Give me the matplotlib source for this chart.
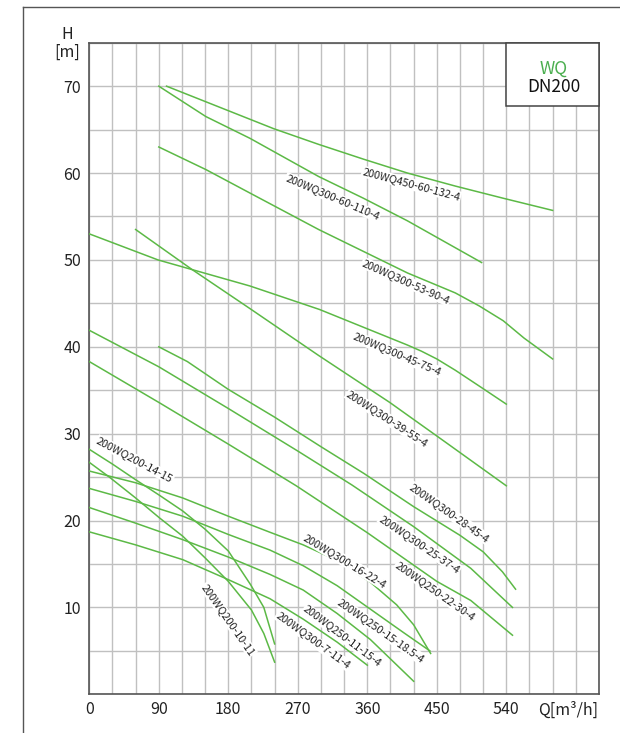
import matplotlib
matplotlib.use("Agg")
import matplotlib.pyplot as plt
from matplotlib.patches import Rectangle
from matplotlib.lines import Line2D

plt.rcParams['font.family'] = ['Noto Sans CJK SC', 'DejaVu Sans']

# ---------------- data ----------------
curve_names = [
    "200WQ450-60-132-4", "200WQ300-60-110-4", "200WQ300-53-90-4",
    "200WQ300-45-75-4", "200WQ300-39-55-4", "200WQ300-28-45-4",
    "200WQ300-25-37-4", "200WQ250-22-30-4", "200WQ200-14-15",
    "200WQ200-10-11", "200WQ300-16-22-4", "200WQ250-15-18.5-4",
    "200WQ250-11-15-4", "200WQ300-7-11-4",
]

q_450_60_132 = [100, 239, 297, 355, 412, 474, 536, 600]
h_450_60_132 = [70.0, 65.1, 63.3, 61.6, 60.0, 58.5, 57.1, 55.7]

q_300_60_110 = [90, 151, 208, 297, 355, 412, 448, 508]
h_300_60_110 = [70.0, 66.5, 64.0, 59.6, 57.1, 54.5, 52.7, 49.7]

q_300_53_90 = [90, 151, 208, 297, 412, 474, 505, 536, 563, 600]
h_300_53_90 = [63.0, 60.4, 57.7, 53.5, 48.5, 46.2, 44.7, 43.0, 41.0, 38.6]

q_300_45_75 = [0, 89, 208, 298, 412, 430, 450, 474, 508, 540]
h_300_45_75 = [53.0, 50.0, 47.0, 44.3, 40.2, 39.5, 38.6, 37.3, 35.3, 33.4]

q_300_39_55 = [60, 133, 208, 297, 389, 460, 540]
h_300_39_55 = [53.5, 48.9, 44.4, 39.0, 33.6, 29.1, 24.0]

q_300_28_45 = [90, 127, 180, 240, 300, 356, 388, 420, 480, 510, 535, 552]
h_300_28_45 = [40.0, 38.3, 35.1, 31.9, 28.5, 25.4, 23.5, 21.6, 18.3, 16.4, 14.1, 12.1]

q_300_25_37 = [0, 90, 180, 270, 340, 420, 494, 548]
h_300_25_37 = [41.9, 37.7, 32.9, 28.0, 24.1, 19.3, 14.5, 10.0]

q_250_22_30 = [0, 90, 180, 268, 360, 450, 494, 548]
h_250_22_30 = [38.3, 33.6, 28.8, 24.0, 18.6, 13.0, 10.8, 6.8]

q_200_14_15 = [0, 30, 60, 91, 121, 150, 180, 209, 226, 240]
h_200_14_15 = [28.2, 26.5, 24.7, 22.9, 21.1, 19.0, 16.5, 12.6, 10.0, 5.8]

q_200_10_11 = [0, 26, 60, 91, 121, 150, 180, 210, 226, 240]
h_200_10_11 = [26.7, 25.0, 22.6, 20.3, 18.2, 15.7, 13.0, 9.7, 7.0, 3.7]

q_300_16_22 = [0, 60, 121, 180, 234, 277, 321, 364, 398, 420, 442]
h_300_16_22 = [25.7, 24.35, 22.6, 20.5, 18.65, 17.2, 15.4, 12.9, 10.3, 8.0, 4.7]

q_250_15_185 = [0, 60, 121, 180, 234, 277, 321, 364, 407, 441]
h_250_15_185 = [23.7, 22.2, 20.5, 18.4, 16.6, 14.8, 12.5, 9.8, 7.1, 5.0]

q_250_11_15 = [0, 60, 121, 180, 234, 277, 321, 364, 420]
h_250_11_15 = [21.5, 19.7, 17.8, 15.8, 13.8, 12.0, 9.3, 6.3, 1.5]

q_300_7_11 = [0, 60, 121, 180, 234, 277, 321, 360]
h_300_7_11 = [18.7, 17.2, 15.5, 13.2, 11.0, 8.65, 6.0, 3.35]

curves_q = [q_450_60_132, q_300_60_110, q_300_53_90, q_300_45_75, q_300_39_55,
            q_300_28_45, q_300_25_37, q_250_22_30, q_200_14_15, q_200_10_11,
            q_300_16_22, q_250_15_185, q_250_11_15, q_300_7_11]
curves_h = [h_450_60_132, h_300_60_110, h_300_53_90, h_300_45_75, h_300_39_55,
            h_300_28_45, h_300_25_37, h_250_22_30, h_200_14_15, h_200_10_11,
            h_300_16_22, h_250_15_185, h_250_11_15, h_300_7_11]

# label anchor positions (centre) and angles
label_q = [417, 315, 410, 398, 386, 466, 428, 448, 59, 180, 331, 378, 328, 290]
label_h = [58.7, 57.2, 47.5, 39.15, 31.7, 20.9, 17.3, 11.9, 27.0, 8.6, 15.35, 7.3, 6.7, 6.2]
label_rot = [-15, -23, -24, -23, -33, -35, -34, -35, -28, -55, -31, -35, -37, -36]

x_ticks = [0, 90, 180, 270, 360, 450, 540]
y_ticks = [10, 20, 30, 40, 50, 60, 70]

GREEN = '#5cb946'
GRID = '#c0c0c0'
SPINE = '#555555'

fig = plt.figure(figsize=(6.2, 7.33), dpi=100)
ax = fig.add_axes([0.1440, 0.0528, 0.8221, 0.8889])
ax.set_xlim(0, 660)
ax.set_ylim(0, 75)

# grid
ax.set_xticks(range(0, 661, 30))
ax.set_xticklabels([str(v) if v in x_ticks else '' for v in range(0, 661, 30)])
ax.set_yticks(range(0, 76, 5))
ax.set_yticklabels([str(v) if v in y_ticks else '' for v in range(0, 76, 5)])
ax.grid(True, color=GRID, lw=1.0)
ax.set_axisbelow(True)
ax.tick_params(length=0, labelsize=11.5, colors='#222222')
ax.tick_params(axis='x', pad=5)
ax.tick_params(axis='y', pad=6)
for s in ax.spines.values():
    s.set_color(SPINE)
    s.set_linewidth(1.2)

for qs, hs in zip(curves_q, curves_h):
    ax.plot(qs, hs, color=GREEN, lw=1.1, zorder=3, solid_joinstyle='round')

for name, lq, lh, rot in zip(curve_names, label_q, label_h, label_rot):
    ax.text(lq, lh, name, rotation=rot, rotation_mode='anchor', ha='center', va='center',
            fontsize=7.8, color='#222222', zorder=4,
            bbox=dict(facecolor='white', edgecolor='none', pad=0.6))

# legend box
ax.add_patch(Rectangle((540, 67.7), 120, 7.3, facecolor='white', edgecolor='#444444',
                       lw=1.1, zorder=5, clip_on=False))
ax.text(601, 71.45, 'WQ', color='#4caf50', fontsize=12.5, ha='center', va='baseline', zorder=6)
ax.text(601, 69.35, 'DN200', color='#111111', fontsize=12.5, ha='center', va='baseline', zorder=6)

# axis labels
ax.annotate('Q[m³/h]', xy=(581, 0), xycoords=('data', 'axes fraction'),
            xytext=(0, -5), textcoords='offset points', ha='left', va='top',
            fontsize=11.5, color='#222222')
fig.text(67.5 / 620, 1 - 39.3 / 733, 'H', ha='center', va='baseline', fontsize=11.5, color='#222222')
fig.text(67.5 / 620, 1 - 57 / 733, '[m]', ha='center', va='baseline', fontsize=11.5, color='#222222')

# outer frame
fx = 22.7 / 620
fy = 1 - 6.7 / 733
fig.add_artist(Line2D([fx, fx], [fy, 0], color=SPINE, lw=1.0, transform=fig.transFigure))
fig.add_artist(Line2D([fx, 1], [fy, fy], color=SPINE, lw=1.0, transform=fig.transFigure))

fig.savefig('out.png', dpi=100)
